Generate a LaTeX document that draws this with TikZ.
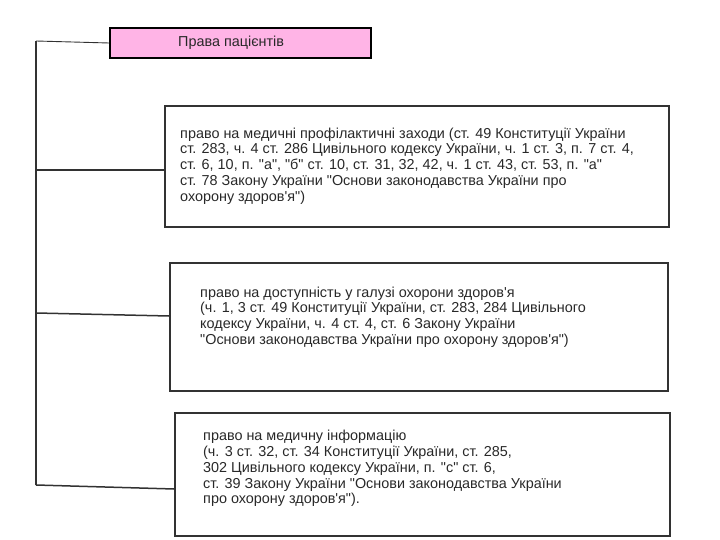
\documentclass[tikz,border=0pt]{standalone}
\usepackage{fontspec}
\setmainfont{Liberation Sans}[Ligatures=TeXOff]
\definecolor{titlepink}{RGB}{255,180,230}
\definecolor{boxline}{RGB}{50,50,50}
\definecolor{txtcol}{RGB}{40,40,40}
\begin{document}
\begin{tikzpicture}[x=1pt,y=-1pt,
  box/.style={draw=boxline, line width=1.8pt, anchor=north west, inner sep=0pt},
  txt/.style={anchor=west, align=left, inner sep=0pt, font=\fontsize{14.4}{15.8}\selectfont, text=txtcol},
  conn/.style={draw=boxline, line width=1.5pt},
  thinconn/.style={draw=boxline, line width=0.9pt}]
\useasboundingbox (0,0) rectangle (720,540);
% title
\node[draw=black, line width=2pt, fill=titlepink, anchor=north west, inner sep=0pt,
      minimum width=261pt, minimum height=30pt] (title) at (109,27) {};
\node[txt] (tt) at (178,42.5) {Права пацієнтів};
% boxes
\node[box, minimum width=504pt, minimum height=121pt] (b1) at (164,105) {};
\node[box, minimum width=498pt, minimum height=128pt] (b2) at (169,262) {};
\node[box, minimum width=495pt, minimum height=123pt] (b3) at (174,412) {};
% texts
\node[txt] (t1) at (180,166) {право на медичні профілактичні заходи (ст. 49 Конституції України\\
ст. 283, ч. 4 ст. 286 Цивільного кодексу України, ч. 1 ст. 3, п. 7 ст. 4,\\
ст. 6, 10, п. "а", "б" ст. 10, ст. 31, 32, 42, ч. 1 ст. 43, ст. 53, п. "а"\\
ст. 78 Закону України "Основи законодавства України про\\
охорону здоров'я")};
\node[txt] (t2) at (200,317) {право на доступність у галузі охорони здоров'я\\
(ч. 1, 3 ст. 49 Конституції України, ст. 283, 284 Цивільного\\
кодексу України, ч. 4 ст. 4, ст. 6 Закону України\\
"Основи законодавства України про охорону здоров'я")};
\node[txt] (t3) at (203,468.5) {право на медичну інформацію\\
(ч. 3 ст. 32, ст. 34 Конституції України, ст. 285,\\
302 Цивільного кодексу України, п. "с" ст. 6,\\
ст. 39 Закону України "Основи законодавства України\\
про охорону здоров'я").};
% connectors
\coordinate (k0) at (36,41);
\coordinate (k1) at (36,170);
\coordinate (k2) at (36,313);
\coordinate (k3) at (36,485);
\draw[thinconn] (title.west) -- (k0);
\draw[conn] (k0) -- (k3);
\draw[conn] (k1) -- (k1 -| b1.west);
\draw[conn] (k2) -- ([yshift=-3pt]k2 -| b2.west);
\draw[conn] (k3) -- ([yshift=-4pt]k3 -| b3.west);
\end{tikzpicture}
\end{document}
